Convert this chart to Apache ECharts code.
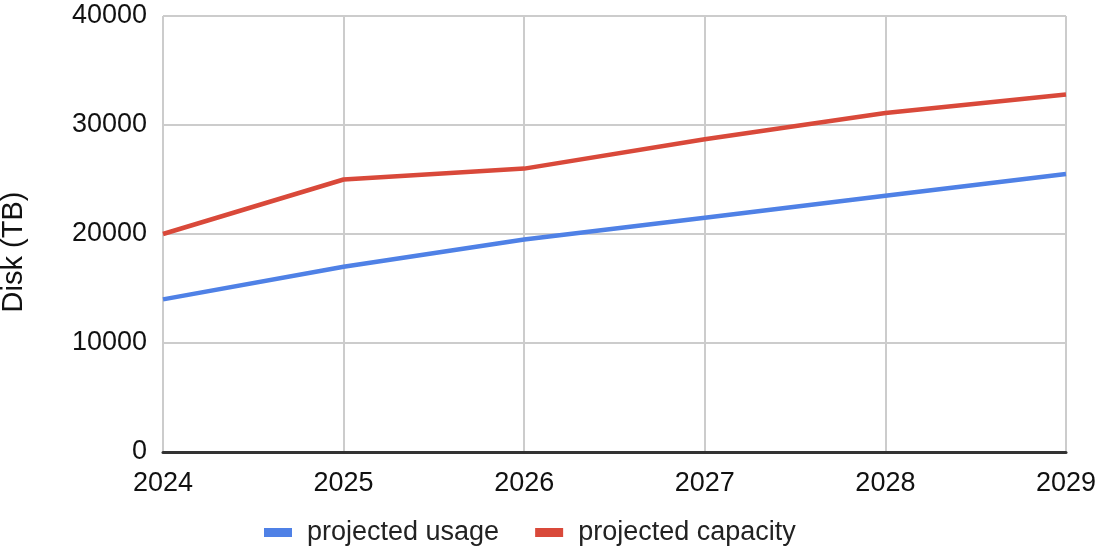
<!DOCTYPE html>
<html>
<head>
<meta charset="utf-8">
<script src="https://cdn.jsdelivr.net/npm/echarts@6/dist/echarts.min.js"></script>
<style>
  html, body { margin: 0; padding: 0; background: #fff; }
  #chart { width: 1102px; height: 548px; }
</style>
</head>
<body>
<div id="chart"></div>
<script>
// data
const years = ['2024', '2025', '2026', '2027', '2028', '2029']
const projectedUsage = [14000, 17000, 19500, 21500, 23500, 25500]
const projectedCapacity = [20000, 25000, 26000, 28700, 31100, 32800]

const font = 'Liberation Sans, Arial, sans-serif'

const chart = echarts.init(document.getElementById('chart'))
chart.setOption({
  animation: false,
  textStyle: { fontFamily: font },
  grid: { left: 163, right: 36, top: 16, bottom: 96, containLabel: false, outerBoundsMode: 'none' },
  legend: {
    top: 514,
    left: 259,
    itemWidth: 28,
    itemHeight: 9,
    itemGap: 36,
    icon: 'rect',
    textStyle: { fontSize: 27, color: '#222', fontFamily: font, padding: [0, 0, 0, 10] },
    data: ['projected usage', 'projected capacity']
  },
  xAxis: {
    type: 'category',
    boundaryGap: false,
    data: years,
    axisLine: { lineStyle: { color: '#333', width: 3 } },
    axisTick: { show: false },
    axisLabel: { fontSize: 27, color: '#111', margin: 18 },
    splitLine: { show: true, lineStyle: { color: '#ccc', width: 2 } }
  },
  yAxis: {
    type: 'value',
    min: 0,
    max: 40000,
    interval: 10000,
    name: 'Disk (TB)',
    nameLocation: 'middle',
    nameGap: 135,
    nameTextStyle: { fontSize: 29, color: '#111', padding: [0, 36, 0, 0] },
    axisLine: { show: false },
    axisTick: { show: false },
    axisLabel: { fontSize: 27, color: '#111', margin: 16, formatter: v => String(v) },
    splitLine: { lineStyle: { color: '#ccc', width: 2 } }
  },
  series: [
    {
      name: 'projected usage',
      type: 'line',
      data: projectedUsage,
      symbol: 'none',
      lineStyle: { width: 4.5, color: '#4f81e6' },
      itemStyle: { color: '#4f81e6' }
    },
    {
      name: 'projected capacity',
      type: 'line',
      data: projectedCapacity,
      symbol: 'none',
      lineStyle: { width: 4.5, color: '#d9493a' },
      itemStyle: { color: '#d9493a' }
    }
  ]
})
</script>
</body>
</html>
